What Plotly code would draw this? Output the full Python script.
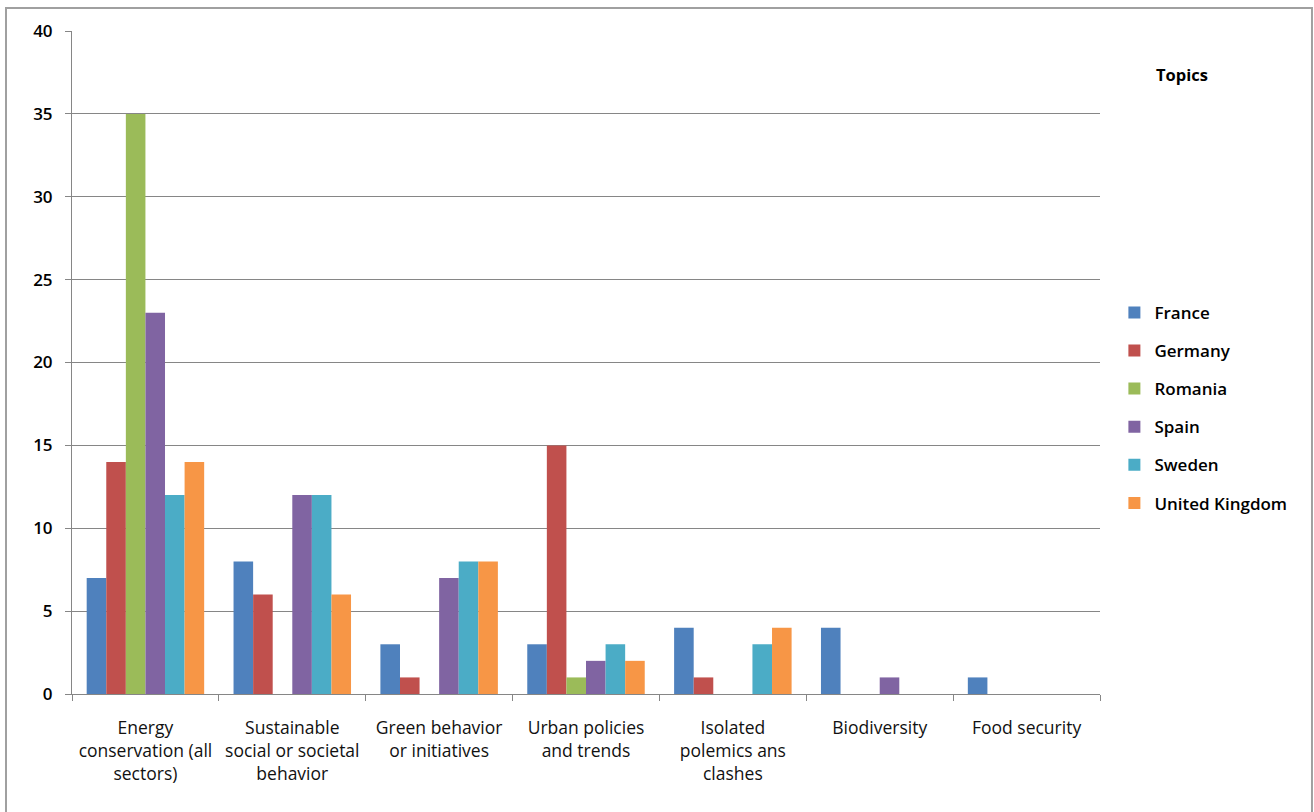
import plotly.graph_objects as go

categories = [
    "Energy<br>conservation (all<br>sectors)",
    "Sustainable<br>social or societal<br>behavior",
    "Green behavior<br>or initiatives",
    "Urban policies<br>and trends",
    "Isolated<br>polemics ans<br>clashes",
    "Biodiversity",
    "Food security",
]
france = [7, 8, 3, 3, 4, 4, 1]
germany = [14, 6, 1, 15, 1, 0, 0]
romania = [35, 0, 0, 1, 0, 0, 0]
spain = [23, 12, 7, 2, 0, 1, 0]
sweden = [12, 12, 8, 3, 3, 0, 0]
united_kingdom = [14, 6, 8, 2, 4, 0, 0]

series = [
    ("France", france, "#4F81BD"),
    ("Germany", germany, "#C0504D"),
    ("Romania", romania, "#9BBB59"),
    ("Spain", spain, "#8064A2"),
    ("Sweden", sweden, "#4BACC6"),
    ("United Kingdom", united_kingdom, "#F79646"),
]

FONT = "Open Sans"

fig = go.Figure()
for name, vals, color in series:
    fig.add_trace(go.Bar(
        name=name, x=categories, y=vals,
        marker=dict(color=color, line=dict(width=0)),
        legendgroup=name,
    ))

fig.update_layout(
    width=1314, height=812,
    margin=dict(l=72, r=214, t=31, b=118),
    paper_bgcolor="white", plot_bgcolor="white",
    barmode="group", bargap=0.2, bargroupgap=0,
    font=dict(family=FONT, size=15, color="black"),
    showlegend=True,
    legend=dict(
        x=1.014, y=0.602, xanchor="left", yanchor="top",
        font=dict(family=FONT, size=17, color="black", weight=600),
        tracegroupgap=13, itemwidth=30,
        bgcolor="rgba(0,0,0,0)",
    ),
    xaxis=dict(
        showline=True, linecolor="#868686", linewidth=1,
        ticks="outside", ticklen=6, tickcolor="#868686",
        tickson="boundaries",
        tickfont=dict(family=FONT, size=17.5, color="#111111"),
        ticklabelstandoff=18,
        showgrid=False,
    ),
    yaxis=dict(
        range=[0, 40], dtick=5,
        showline=True, linecolor="#868686", linewidth=1,
        ticks="outside", ticklen=6, tickcolor="#868686",
        showgrid=True, gridcolor="#868686", gridwidth=1,
        zeroline=False,
        tickfont=dict(family=FONT, size=17, color="black", weight=600),
        ticklabelstandoff=9,
    ),
    annotations=[
        dict(text="Topics", xref="paper", yref="paper",
             x=1.0798, y=0.934, xanchor="center", yanchor="middle",
             showarrow=False,
             font=dict(family=FONT, size=16.5, color="black", weight=700)),
    ],
    shapes=[
        dict(type="rect", xref="paper", yref="paper",
             x0=-0.0642, x1=1.2062, y0=-0.19, y1=1.0347,
             line=dict(color="#A0A0A0", width=2), layer="below"),
    ],
)

fig.write_html("out.html")
